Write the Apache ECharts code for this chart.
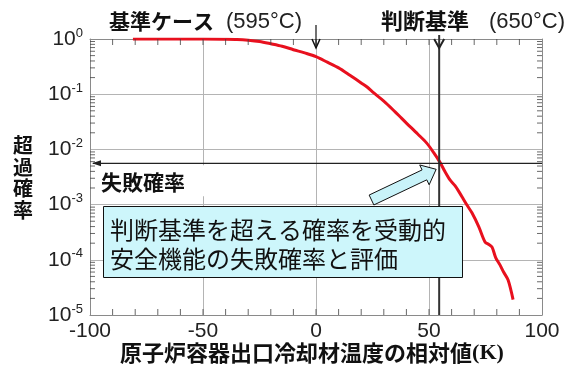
<!DOCTYPE html>
<html>
<head>
<meta charset="utf-8">
<script src="https://cdn.jsdelivr.net/npm/echarts@6/dist/echarts.min.js"></script>
<style>
  html, body { margin: 0; padding: 0; background: #fff; }
  #chart { width: 579px; height: 367px; }
</style>
</head>
<body>
<div id="chart"></div>
<script>
// Relative reactor-vessel outlet coolant temperature (K) vs. exceedance probability
const tempOffset = [-81, -70, -60, -50, -40, -35, -30, -25, -20, -15, -10, -5, 0, 5, 10, 15, 20, 22.6, 25, 30, 35, 37.2, 40, 45, 49, 52, 55, 57, 59.3, 61.5, 63.7, 65, 67, 69, 72, 74.8, 76.5, 77.9, 79.5, 81.4, 83, 85, 87.2];
const exceedProb = [1.0, 1.0, 1.0, 1.0, 0.99, 0.98, 0.95, 0.9, 0.82, 0.74, 0.64, 0.56, 0.48, 0.38, 0.30, 0.22, 0.16, 0.135, 0.11, 0.075, 0.048, 0.039, 0.030, 0.019, 0.013, 0.0088, 0.0057, 0.0040, 0.0028, 0.0022, 0.0016, 0.0013, 0.00095, 0.00071, 0.00040, 0.00021, 0.00019, 0.00017, 0.00011, 0.000081, 0.000060, 0.000043, 0.000019];

const xMin = -100, xMax = 100, xStep = 50, xMinorStep = 10;
const yMin = 1e-5, yMax = 1;
const decadeExponents = [-5, -4, -3, -2, -1, 0];

const baseCaseX = 0;        // 基準ケース (595°C)
const criterionX = 54.5;    // 判断基準 (650°C)
const failureProb = 5.6e-3; // 失敗確率

const labelsTop = { base: '基準ケース', baseTemp: '(595°C)', crit: '判断基準', critTemp: '(650°C)' };
const failureLabel = '失敗確率';
const yTitle = '超過確率';
const xTitle = '原子炉容器出口冷却材温度の相対値';
const xUnit = '(K)';
const calloutLines = ['判断基準を超える確率を受動的', '安全機能の失敗確率と評価'];

// minor tick positions: every 10 K on x, 2..9 × 10^k on y
const xTickValues = [];
for (let t = xMin + xMinorStep; t < xMax; t += xMinorStep) xTickValues.push(t);
const yTickValues = [];
decadeExponents.slice(0, -1).forEach(k => {
  for (let m = 2; m <= 9; m++) yTickValues.push(m * Math.pow(10, k));
});

const CJK = '"Noto Sans CJK JP", sans-serif';
const LAT = '"Liberation Sans", Arial, sans-serif';
const frameColor = '#8a8a8a';
const gridColor = '#b4b4b4';
const tickColor = '#444';

const chart = echarts.init(document.getElementById('chart'), null, { renderer: 'canvas' });

const xAxisCommon = {
  type: 'value', min: xMin, max: xMax, interval: xStep,
  axisLine: { show: true, onZero: false, lineStyle: { color: frameColor, width: 1 } },
  axisTick: { show: false }
};
const yAxisCommon = {
  type: 'log', logBase: 10, min: yMin, max: yMax, splitNumber: 5,
  axisLine: { show: true, onZero: false, lineStyle: { color: frameColor, width: 1 } },
  axisTick: { show: false }
};

// short inward tick marks drawn as thin rectangle symbols sitting on the frame
const tickSeries = (data, size, offset) => ({
  type: 'scatter',
  xAxisIndex: 0, yAxisIndex: 0,
  silent: true,
  clip: false,
  symbol: 'rect',
  symbolSize: size,
  symbolOffset: offset,
  itemStyle: { color: tickColor },
  data: data,
  z: 6
});

chart.setOption({
  animation: false,
  backgroundColor: '#fff',
  grid: { left: 90, right: 37, top: 39, bottom: 52, containLabel: false },
  xAxis: [
    Object.assign({}, xAxisCommon, {
      position: 'bottom',
      axisLabel: { show: true, margin: 6, color: '#222', fontFamily: LAT, fontSize: 21 },
      splitLine: { show: true, lineStyle: { color: gridColor, width: 1 } }
    }),
    Object.assign({}, xAxisCommon, {
      position: 'top',
      axisLabel: { show: false },
      splitLine: { show: false }
    })
  ],
  yAxis: [
    Object.assign({}, yAxisCommon, {
      position: 'left',
      axisLabel: {
        show: true, margin: 7, color: '#222',
        formatter: v => '{b|10}{e|' + Math.round(Math.log10(v)) + '}',
        rich: {
          b: { fontFamily: LAT, fontSize: 21, color: '#222', lineHeight: 24 },
          e: { fontFamily: LAT, fontSize: 13, color: '#222', padding: [0, 0, 12, 0], lineHeight: 24 }
        }
      },
      splitLine: { show: true, lineStyle: { color: gridColor, width: 1 } }
    }),
    Object.assign({}, yAxisCommon, {
      position: 'right',
      axisLabel: { show: false },
      splitLine: { show: false }
    })
  ],
  series: [
    tickSeries(xTickValues.map(t => [t, yMin]), [1, 6], [0, -3]),
    tickSeries(xTickValues.map(t => [t, yMax]), [1, 6], [0, 3]),
    tickSeries(yTickValues.map(v => [xMin, v]), [5, 1], [2.5, 0]),
    tickSeries(yTickValues.map(v => [xMax, v]), [5, 1], [-2.5, 0]),
    {
      type: 'line',
      name: '超過確率',
      xAxisIndex: 0, yAxisIndex: 0,
      data: tempOffset.map((t, i) => [t, exceedProb[i]]),
      showSymbol: false,
      smooth: 0.3,
      lineStyle: { color: '#e8101e', width: 3 },
      z: 3
    }
  ]
});

function drawAnnotations() {
  const px = p => chart.convertToPixel({ gridIndex: 0 }, p);
  const topLeft = px([xMin, yMax]);
  const botRight = px([xMax, yMin]);
  const baseTop = px([baseCaseX, yMax]);
  const critTop = px([criterionX, yMax]);
  const critBot = px([criterionX, yMin]);
  const hit = px([criterionX, failureProb]);

  const graphics = [];

  const headV = (x, tipY, w, h, lw, color) => ({
    type: 'polyline', z: 20,
    shape: { points: [[x - w, tipY - h], [x, tipY], [x + w, tipY - h]] },
    style: { stroke: color, lineWidth: lw, fill: null }
  });

  // base-case arrow (thin)
  graphics.push({ type: 'line', z: 20, shape: { x1: baseTop[0], y1: 25, x2: baseTop[0], y2: baseTop[1] + 9 }, style: { stroke: '#111', lineWidth: 1.2 } });
  graphics.push(headV(baseTop[0], baseTop[1] + 9, 4, 9, 1.5, '#111'));

  // criterion line with arrow head at the top
  graphics.push({ type: 'line', z: 20, shape: { x1: critTop[0], y1: 35, x2: critBot[0], y2: critBot[1] }, style: { stroke: '#333', lineWidth: 2 } });
  graphics.push(headV(critTop[0], critTop[1] + 9, 5, 9, 2, '#222'));

  // failure-probability line pointing to the axis
  graphics.push({ type: 'line', z: 20, shape: { x1: botRight[0], y1: hit[1], x2: topLeft[0] + 3, y2: hit[1] }, style: { stroke: '#222', lineWidth: 1.3 } });
  graphics.push({ type: 'polygon', z: 20, shape: { points: [[topLeft[0] + 2, hit[1]], [topLeft[0] + 11, hit[1] - 3], [topLeft[0] + 11, hit[1] + 3]] }, style: { fill: '#222' } });

  // white label plate behind 失敗確率
  graphics.push({ type: 'rect', z: 15, shape: { x: topLeft[0] + 6, y: hit[1] + 2, width: 184, height: 31 }, style: { fill: '#fff' } });
  graphics.push({ type: 'text', z: 21, style: { text: failureLabel, x: 101, y: hit[1] + 19, verticalAlign: 'middle', font: 'bold 21px ' + CJK, fill: '#111' } });

  // top annotations
  graphics.push({ type: 'text', z: 21, style: { text: labelsTop.base, x: 109, y: 21, verticalAlign: 'middle', font: 'bold 21px ' + CJK, fill: '#111' } });
  graphics.push({ type: 'text', z: 21, style: { text: labelsTop.baseTemp, x: 226, y: 22, verticalAlign: 'middle', font: '22px ' + LAT, fill: '#222' } });
  graphics.push({ type: 'text', z: 21, style: { text: labelsTop.crit, x: 381, y: 21, verticalAlign: 'middle', font: 'bold 22px ' + CJK, fill: '#111' } });
  graphics.push({ type: 'text', z: 21, style: { text: labelsTop.critTemp, x: 489, y: 22, verticalAlign: 'middle', font: '22px ' + LAT, fill: '#222' } });

  // y-axis title (vertical)
  graphics.push({ type: 'text', z: 21, style: { text: yTitle.split('').join('\n'), x: 23, y: 178, align: 'center', verticalAlign: 'middle', lineHeight: 21.5, font: 'bold 20px ' + CJK, fill: '#111' } });

  // x-axis title
  graphics.push({
    type: 'text', z: 21,
    style: {
      text: '{a|' + xTitle + '}{k|' + xUnit + '}', x: 312, y: 353, align: 'center', verticalAlign: 'middle',
      rich: {
        a: { font: 'bold 22px ' + CJK, fill: '#111' },
        k: { font: 'bold 22px "Liberation Serif", "Times New Roman", serif', fill: '#111' }
      }
    }
  });

  // block arrow from the callout to the intersection
  const tip = [hit[0] - 3, hit[1] + 6];
  const tail = [371.5, 200];
  const dx = tip[0] - tail[0], dy = tip[1] - tail[1];
  const len = Math.hypot(dx, dy);
  const ux = dx / len, uy = dy / len, nx = -uy, ny = ux;
  const sw = 5.5, hw = 11, hl = 13;
  const bx = tip[0] - ux * hl, by = tip[1] - uy * hl;
  graphics.push({
    type: 'polygon', z: 22,
    shape: { points: [
      [tail[0] + nx * sw, tail[1] + ny * sw], [bx + nx * sw, by + ny * sw], [bx + nx * hw, by + ny * hw],
      tip,
      [bx - nx * hw, by - ny * hw], [bx - nx * sw, by - ny * sw], [tail[0] - nx * sw, tail[1] - ny * sw]
    ] },
    style: { fill: '#c9f3f9', stroke: '#111', lineWidth: 1 }
  });

  // callout box
  graphics.push({ type: 'rect', z: 23, shape: { x: 103.5, y: 206.5, width: 359, height: 71 }, style: { fill: '#cdf6fb', stroke: '#111', lineWidth: 1 } });
  graphics.push({ type: 'text', z: 24, style: { text: calloutLines[0], x: 110, y: 230, verticalAlign: 'middle', font: '24px ' + CJK, fill: '#111' } });
  graphics.push({ type: 'text', z: 24, style: { text: calloutLines[1], x: 110, y: 259, verticalAlign: 'middle', font: '24px ' + CJK, fill: '#111' } });

  chart.setOption({ graphic: { elements: graphics } });
}

drawAnnotations();
</script>
</body>
</html>
